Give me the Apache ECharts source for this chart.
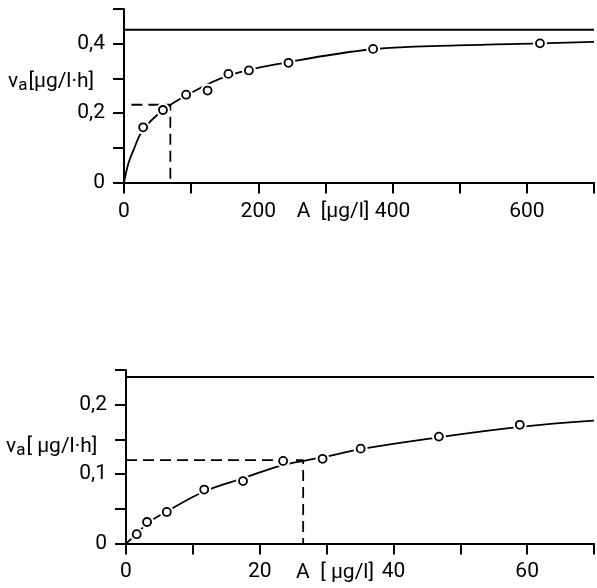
<!DOCTYPE html>
<html><head><meta charset="utf-8">
<script src="https://cdn.jsdelivr.net/npm/echarts@6/dist/echarts.min.js"></script>
<style>html,body{margin:0;background:#fff}#c{width:597px;height:588px}</style>
</head><body><div id="c"></div>
<script>
// ---- Top panel (A up to 700 µg/l) ----
const topPointsA = [28.5, 58, 92.5, 124.5, 155.5, 186, 245, 371, 619.5];
const topPointsV = [0.159, 0.209, 0.253, 0.265, 0.313, 0.323, 0.345, 0.385, 0.401];
const topCurveA = [0, 6.4, 13.8, 28.5, 58, 92, 155.5, 245, 371, 496, 620, 700];
const topCurveV = [0, 0.054, 0.092, 0.152, 0.208, 0.25, 0.308, 0.347, 0.384, 0.395, 0.401, 0.405];
const topVmax = 0.44;
const topKm = 69;
const topHalfV = 0.224;
const topDashStartA = 11;
const topXLabels = [0, 200, 400, 600];
const topYLabels = [0, 0.2, 0.4];

// ---- Bottom panel (A up to 70 µg/l) ----
const botPointsA = [1.6, 3.15, 6.1, 11.7, 17.5, 23.5, 29.4, 35.1, 46.8, 58.9];
const botPointsV = [0.0134, 0.031, 0.0455, 0.0777, 0.090, 0.119, 0.122, 0.1367, 0.154, 0.171];
const botCurveA = [0, 1.6, 3.15, 6.1, 11.7, 17.5, 23.5, 29.4, 35.1, 46.8, 58.9, 70];
const botCurveV = [0, 0.0134, 0.029, 0.046, 0.075, 0.094, 0.113, 0.124, 0.136, 0.153, 0.168, 0.177];
const botVmax = 0.24;
const botKm = 26.5;
const botHalfV = 0.12;
const botDashStartA = 0;
const botXLabels = [0, 20, 40, 60];
const botYLabels = [0, 0.1, 0.2];

const FONT = 'Roboto';
const FS = 21;
const zip = (a, b) => a.map((x, i) => [x, b[i]]);
const near = (v, list) => list.some(l => Math.abs(l - v) < 1e-9);
const fmtNum = v => String(+v.toFixed(3)).replace('.', ',');

function xAxis(grid, max, interval, labels, margin) {
  return {
    type: 'value', gridIndex: grid, min: 0, max: max, interval: interval,
    axisLine: { onZero: false, lineStyle: { color: '#000', width: 2 } },
    axisTick: { length: 11, lineStyle: { color: '#000', width: 2 } },
    splitLine: { show: false },
    axisLabel: {
      margin: margin, color: '#000', fontSize: FS, fontFamily: FONT,
      formatter: v => near(v, labels) ? fmtNum(v) : ''
    }
  };
}
function yAxis(grid, max, interval, labels) {
  return {
    type: 'value', gridIndex: grid, min: 0, max: max, interval: interval,
    axisLine: { onZero: false, lineStyle: { color: '#000', width: 2 } },
    axisTick: { length: 11, lineStyle: { color: '#000', width: 2 } },
    splitLine: { show: false },
    axisLabel: {
      margin: 19, color: '#000', fontSize: FS, fontFamily: FONT,
      formatter: v => near(v, labels) ? fmtNum(v) : ''
    }
  };
}
function panelSeries(idx, curveA, curveV, ptsA, ptsV, vmax, xmax, km, half, dashStart) {
  const ax = { xAxisIndex: idx, yAxisIndex: idx };
  return [
    Object.assign({ type: 'line', data: zip(curveA, curveV), smooth: 0.4,
      symbol: 'none', lineStyle: { color: '#000', width: 1.8 }, z: 2 }, ax),
    Object.assign({ type: 'line', data: [[0, vmax], [xmax, vmax]], symbol: 'none',
      lineStyle: { color: '#000', width: 2 }, z: 2 }, ax),
    Object.assign({ type: 'line', data: [[dashStart, half], [km, half], [km, 0]], symbol: 'none',
      lineStyle: { color: '#000', width: 1.8, type: [11, 6] }, z: 2 }, ax),
    Object.assign({ type: 'scatter', data: zip(ptsA, ptsV), symbol: 'circle', symbolSize: 14,
      itemStyle: { color: '#fff', opacity: 1 }, z: 3, silent: true }, ax),
    Object.assign({ type: 'scatter', data: zip(ptsA, ptsV), symbol: 'circle', symbolSize: 8,
      itemStyle: { color: '#fff', borderColor: '#000', borderWidth: 1.8, opacity: 1 }, z: 4 }, ax)
  ];
}

const chart = echarts.init(document.getElementById('c'), null, { renderer: 'canvas' });
const richName = {
  v: { fontSize: FS, fontFamily: FONT, color: '#000' },
  s: { fontSize: 17, fontFamily: FONT, color: '#000', padding: [8, 1, 0, 0] },
  t: { fontSize: FS, fontFamily: FONT, color: '#000' }
};
const nameFont = FS + 'px Roboto';
chart.setOption({
  animation: false,
  backgroundColor: '#fff',
  grid: [
    { left: 124, top: 9, width: 474, height: 173.5 },
    { left: 126, top: 370, width: 475, height: 173.5 }
  ],
  xAxis: [xAxis(0, 700, 100, topXLabels, 19), xAxis(1, 70, 10, botXLabels, 18)],
  yAxis: [yAxis(0, 0.5, 0.1, topYLabels), yAxis(1, 0.25, 0.05, botYLabels)],
  series: [].concat(
    panelSeries(0, topCurveA, topCurveV, topPointsA, topPointsV, topVmax, 700, topKm, topHalfV, topDashStartA),
    panelSeries(1, botCurveA, botCurveV, botPointsA, botPointsV, botVmax, 70, botKm, botHalfV, botDashStartA)
  ),
  graphic: [
    { type: 'text', x: 333, y: 212, style: { text: 'A  [µg/l]', font: nameFont, fill: '#000', align: 'center', verticalAlign: 'middle' } },
    { type: 'text', x: 335, y: 573, style: { text: 'A  [ µg/l]', font: nameFont, fill: '#000', align: 'center', verticalAlign: 'middle' } },
    { type: 'text', x: 8, y: 82, style: { text: '{v|v}{s|a}{t|[µg/l·h]}', rich: richName, align: 'left', verticalAlign: 'middle' } },
    { type: 'text', x: 6, y: 447, style: { text: '{v|v}{s|a}{t|[ µg/l·h]}', rich: richName, align: 'left', verticalAlign: 'middle' } }
  ]
});
</script>
</body></html>
